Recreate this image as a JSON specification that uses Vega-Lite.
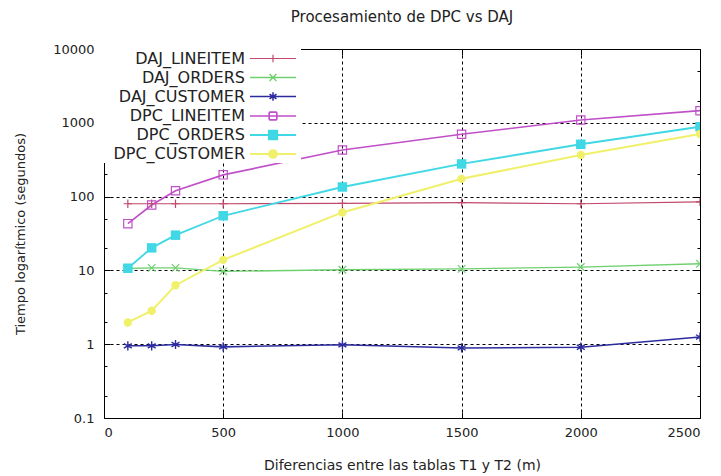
{
  "$schema": "https://vega.github.io/schema/vega-lite/v6.json",
  "width": 596,
  "height": 369,
  "autosize": {"type": "none"},
  "padding": {"left": 104, "top": 49, "right": 21, "bottom": 58},
  "background": "white",
  "title": {
    "text": "Procesamiento de DPC vs DAJ",
    "font": "DejaVu Sans",
    "fontSize": 15,
    "fontWeight": "normal",
    "color": "#222222",
    "offset": 18
  },
  "data": {
    "values": [
      {"series": "DAJ_LINEITEM", "x": 100, "t": 80},
      {"series": "DAJ_LINEITEM", "x": 200, "t": 80},
      {"series": "DAJ_LINEITEM", "x": 300, "t": 80},
      {"series": "DAJ_LINEITEM", "x": 500, "t": 80},
      {"series": "DAJ_LINEITEM", "x": 1000, "t": 81},
      {"series": "DAJ_LINEITEM", "x": 1500, "t": 83},
      {"series": "DAJ_LINEITEM", "x": 2000, "t": 80},
      {"series": "DAJ_LINEITEM", "x": 2500, "t": 85},
      {"series": "DAJ_ORDERS", "x": 100, "t": 10.6},
      {"series": "DAJ_ORDERS", "x": 200, "t": 10.8},
      {"series": "DAJ_ORDERS", "x": 300, "t": 10.8},
      {"series": "DAJ_ORDERS", "x": 500, "t": 9.7},
      {"series": "DAJ_ORDERS", "x": 1000, "t": 10.2},
      {"series": "DAJ_ORDERS", "x": 1500, "t": 10.5},
      {"series": "DAJ_ORDERS", "x": 2000, "t": 11.1},
      {"series": "DAJ_ORDERS", "x": 2500, "t": 12.3},
      {"series": "DAJ_CUSTOMER", "x": 100, "t": 0.95},
      {"series": "DAJ_CUSTOMER", "x": 200, "t": 0.95},
      {"series": "DAJ_CUSTOMER", "x": 300, "t": 0.99},
      {"series": "DAJ_CUSTOMER", "x": 500, "t": 0.92},
      {"series": "DAJ_CUSTOMER", "x": 1000, "t": 0.98},
      {"series": "DAJ_CUSTOMER", "x": 1500, "t": 0.89},
      {"series": "DAJ_CUSTOMER", "x": 2000, "t": 0.91},
      {"series": "DAJ_CUSTOMER", "x": 2500, "t": 1.25},
      {"series": "DPC_LINEITEM", "x": 100, "t": 43},
      {"series": "DPC_LINEITEM", "x": 200, "t": 77},
      {"series": "DPC_LINEITEM", "x": 300, "t": 120},
      {"series": "DPC_LINEITEM", "x": 500, "t": 197},
      {"series": "DPC_LINEITEM", "x": 1000, "t": 428},
      {"series": "DPC_LINEITEM", "x": 1500, "t": 699},
      {"series": "DPC_LINEITEM", "x": 2000, "t": 1091},
      {"series": "DPC_LINEITEM", "x": 2500, "t": 1459},
      {"series": "DPC_ORDERS", "x": 100, "t": 10.7},
      {"series": "DPC_ORDERS", "x": 200, "t": 20.2},
      {"series": "DPC_ORDERS", "x": 300, "t": 30},
      {"series": "DPC_ORDERS", "x": 500, "t": 55},
      {"series": "DPC_ORDERS", "x": 1000, "t": 135},
      {"series": "DPC_ORDERS", "x": 1500, "t": 277},
      {"series": "DPC_ORDERS", "x": 2000, "t": 512},
      {"series": "DPC_ORDERS", "x": 2500, "t": 885},
      {"series": "DPC_CUSTOMER", "x": 100, "t": 1.97},
      {"series": "DPC_CUSTOMER", "x": 200, "t": 2.84},
      {"series": "DPC_CUSTOMER", "x": 300, "t": 6.3},
      {"series": "DPC_CUSTOMER", "x": 500, "t": 13.9},
      {"series": "DPC_CUSTOMER", "x": 1000, "t": 61},
      {"series": "DPC_CUSTOMER", "x": 1500, "t": 174},
      {"series": "DPC_CUSTOMER", "x": 2000, "t": 367},
      {"series": "DPC_CUSTOMER", "x": 2500, "t": 705}
    ]
  },
  "layer": [
    {
      "mark": {"type": "line", "clip": true},
      "encoding": {
        "x": {
          "field": "x",
          "type": "quantitative",
          "scale": {"domain": [0, 2500], "nice": false, "zero": false},
          "axis": {
            "orient": "bottom",
            "title": "Diferencias entre las tablas T1 y T2 (m)",
            "titleFontSize": 14,
            "values": [0, 500, 1000, 1500, 2000, 2500],
            "format": "d",
            "domain": false,
            "ticks": true,
            "tickSize": -6,
            "tickColor": "black",
            "labelPadding": 14,
            "titlePadding": 19,
            "grid": true,
            "gridColor": "black",
            "gridDash": [3, 3],
            "gridOpacity": {"condition": {"test": "datum.value > 0 && datum.value < 2500", "value": 1}, "value": 0}
          }
        },
        "y": {
          "field": "t",
          "type": "quantitative",
          "scale": {"type": "log", "domain": [0.1, 10000], "nice": false},
          "axis": {
            "orient": "left",
            "title": "Tiempo logarítmico (segundos)",
            "values": [0.1, 0.2, 0.5, 1, 2, 5, 10, 20, 50, 100, 200, 500, 1000, 2000, 5000, 10000],
            "format": "~g",
            "labelExpr": "indexof([0.1, 1, 10, 100, 1000, 10000], datum.value) >= 0 ? datum.label : ''",
            "domain": false,
            "ticks": true,
            "tickColor": "black",
            "tickSize": {"condition": {"test": "indexof([0.1, 1, 10, 100, 1000, 10000], datum.value) >= 0", "value": -6}, "value": -3},
            "labelPadding": 16,
            "titlePadding": 25,
            "grid": true,
            "gridColor": "black",
            "gridDash": [3, 3],
            "gridOpacity": {"condition": {"test": "indexof([1, 10, 100, 1000], datum.value) >= 0", "value": 1}, "value": 0}
          }
        },
        "color": {
          "field": "series",
          "type": "nominal",
          "sort": null,
          "scale": {
            "domain": ["DAJ_LINEITEM", "DAJ_ORDERS", "DAJ_CUSTOMER", "DPC_LINEITEM", "DPC_ORDERS", "DPC_CUSTOMER"],
            "range": ["#c0486a", "#6fd06f", "#2c2c9e", "#c050c8", "#3fd8e4", "#f0f06a"]
          },
          "legend": {
            "orient": "none",
            "legendX": 0,
            "legendY": 0,
            "title": null,
            "padding": 1,
            "fillColor": "white",
            "rowPadding": 2,
            "symbolSize": 235,
            "labelAlign": "right",
            "labelOffset": -37,
            "symbolOffset": 159,
            "labelFont": "DejaVu Sans",
            "labelFontSize": 16,
            "labelColor": "#222222",
            "labelLimit": 300
          }
        },
        "strokeWidth": {
          "field": "series",
          "type": "nominal",
          "scale": {
            "domain": ["DAJ_LINEITEM", "DAJ_ORDERS", "DAJ_CUSTOMER", "DPC_LINEITEM", "DPC_ORDERS", "DPC_CUSTOMER"],
            "range": [1.2, 2, 1.2, 1.2, 1, 4]
          }
        }
      }
    },
    {
      "mark": {"type": "point", "filled": false, "size": 0, "opacity": 1, "clip": true},
      "encoding": {
        "x": {
          "field": "x",
          "type": "quantitative",
          "axis": {
            "orient": "top",
            "title": null,
            "values": [0, 500, 1000, 1500, 2000, 2500],
            "labels": false,
            "domain": false,
            "grid": false,
            "ticks": true,
            "tickColor": "black",
            "tickSize": -6
          }
        },
        "y": {
          "field": "t",
          "type": "quantitative",
          "axis": {
            "orient": "right",
            "title": null,
            "values": [0.1, 0.2, 0.5, 1, 2, 5, 10, 20, 50, 100, 200, 500, 1000, 2000, 5000, 10000],
            "labels": false,
            "domain": false,
            "grid": false,
            "ticks": true,
            "tickColor": "black",
            "tickSize": {"condition": {"test": "indexof([0.1, 1, 10, 100, 1000, 10000], datum.value) >= 0", "value": -6}, "value": -3}
          }
        },
        "color": {"field": "series", "type": "nominal", "sort": null},
        "fill": {
          "field": "series",
          "type": "nominal",
          "scale": {
            "domain": ["DAJ_LINEITEM", "DAJ_ORDERS", "DAJ_CUSTOMER", "DPC_LINEITEM", "DPC_ORDERS", "DPC_CUSTOMER"],
            "range": ["#c0486a", "#6fd06f", "#2c2c9e", "#c050c8", "#3fd8e4", "#f0f06a"]
          }
        },
        "shape": {
          "field": "series",
          "type": "nominal",
          "scale": {
            "domain": ["DAJ_LINEITEM", "DAJ_ORDERS", "DAJ_CUSTOMER", "DPC_LINEITEM", "DPC_ORDERS", "DPC_CUSTOMER"],
            "range": [
              "M-3,0H3M0,-0.5V0.5",
              "M-3,0H3M-0.45,-0.45L0.45,0.45M-0.45,0.45L0.45,-0.45",
              "M-3,0H3M0,-0.55V0.55M-0.45,-0.3L0.45,0.3M-0.45,0.3L0.45,-0.3",
              "M-3,0H3M-0.5,-0.5H0.5M0.5,-0.5V0.5M0.5,0.5H-0.5M-0.5,0.5V-0.5",
              "M-3,0H3M-0.55,-0.55H0.55V0.55H-0.55Z",
              "M-3,0H3M-0.5,0A0.5,0.5 0 1,0 0.5,0A0.5,0.5 0 1,0 -0.5,0Z"
            ]
          }
        }
      }
    },
    {
      "transform": [{"filter": "datum.series === 'DAJ_LINEITEM'"}],
      "mark": {"type": "point", "shape": "M-1,0H1M0,-1V1", "filled": false, "size": 70, "strokeWidth": 1.2, "opacity": 1, "clip": true},
      "encoding": {
        "x": {"field": "x", "type": "quantitative", "axis": null},
        "y": {"field": "t", "type": "quantitative", "axis": null},
        "color": {"field": "series", "type": "nominal", "sort": null}
      }
    },
    {
      "transform": [{"filter": "datum.series === 'DAJ_ORDERS'"}],
      "mark": {"type": "point", "shape": "M-0.9,-0.9L0.9,0.9M-0.9,0.9L0.9,-0.9", "filled": false, "size": 70, "strokeWidth": 1.2, "opacity": 1, "clip": true},
      "encoding": {
        "x": {"field": "x", "type": "quantitative", "axis": null},
        "y": {"field": "t", "type": "quantitative", "axis": null},
        "color": {"field": "series", "type": "nominal", "sort": null}
      }
    },
    {
      "transform": [{"filter": "datum.series === 'DAJ_CUSTOMER'"}],
      "mark": {"type": "point", "shape": "M0,-1.1V1.1M-0.95,-0.55L0.95,0.55M-0.95,0.55L0.95,-0.55", "filled": false, "size": 70, "strokeWidth": 1.4, "opacity": 1, "clip": true},
      "encoding": {
        "x": {"field": "x", "type": "quantitative", "axis": null},
        "y": {"field": "t", "type": "quantitative", "axis": null},
        "color": {"field": "series", "type": "nominal", "sort": null}
      }
    },
    {
      "transform": [{"filter": "datum.series === 'DPC_LINEITEM'"}],
      "mark": {"type": "point", "shape": "M-0.9,-0.9H0.9V0.9H-0.9Z", "filled": false, "size": 85, "strokeWidth": 1.2, "opacity": 1, "clip": true},
      "encoding": {
        "x": {"field": "x", "type": "quantitative", "axis": null},
        "y": {"field": "t", "type": "quantitative", "axis": null},
        "color": {"field": "series", "type": "nominal", "sort": null}
      }
    },
    {
      "transform": [{"filter": "datum.series === 'DPC_ORDERS'"}],
      "mark": {"type": "point", "shape": "square", "filled": true, "size": 90, "opacity": 1, "clip": true},
      "encoding": {
        "x": {"field": "x", "type": "quantitative", "axis": null},
        "y": {"field": "t", "type": "quantitative", "axis": null},
        "color": {"field": "series", "type": "nominal", "sort": null}
      }
    },
    {
      "transform": [{"filter": "datum.series === 'DPC_CUSTOMER'"}],
      "mark": {"type": "point", "shape": "circle", "filled": true, "size": 70, "opacity": 1, "clip": true},
      "encoding": {
        "x": {"field": "x", "type": "quantitative", "axis": null},
        "y": {"field": "t", "type": "quantitative", "axis": null},
        "color": {"field": "series", "type": "nominal", "sort": null}
      }
    }
  ],
  "resolve": {"axis": {"x": "independent", "y": "independent"}},
  "config": {
    "view": {"stroke": "black", "strokeWidth": 1},
    "axis": {
      "labelFont": "DejaVu Sans",
      "labelFontSize": 13,
      "labelColor": "#222222",
      "titleFont": "DejaVu Sans",
      "titleFontSize": 13,
      "titleFontWeight": "normal",
      "titleColor": "#222222",
      "gridWidth": 1,
      "tickWidth": 1
    }
  }
}
